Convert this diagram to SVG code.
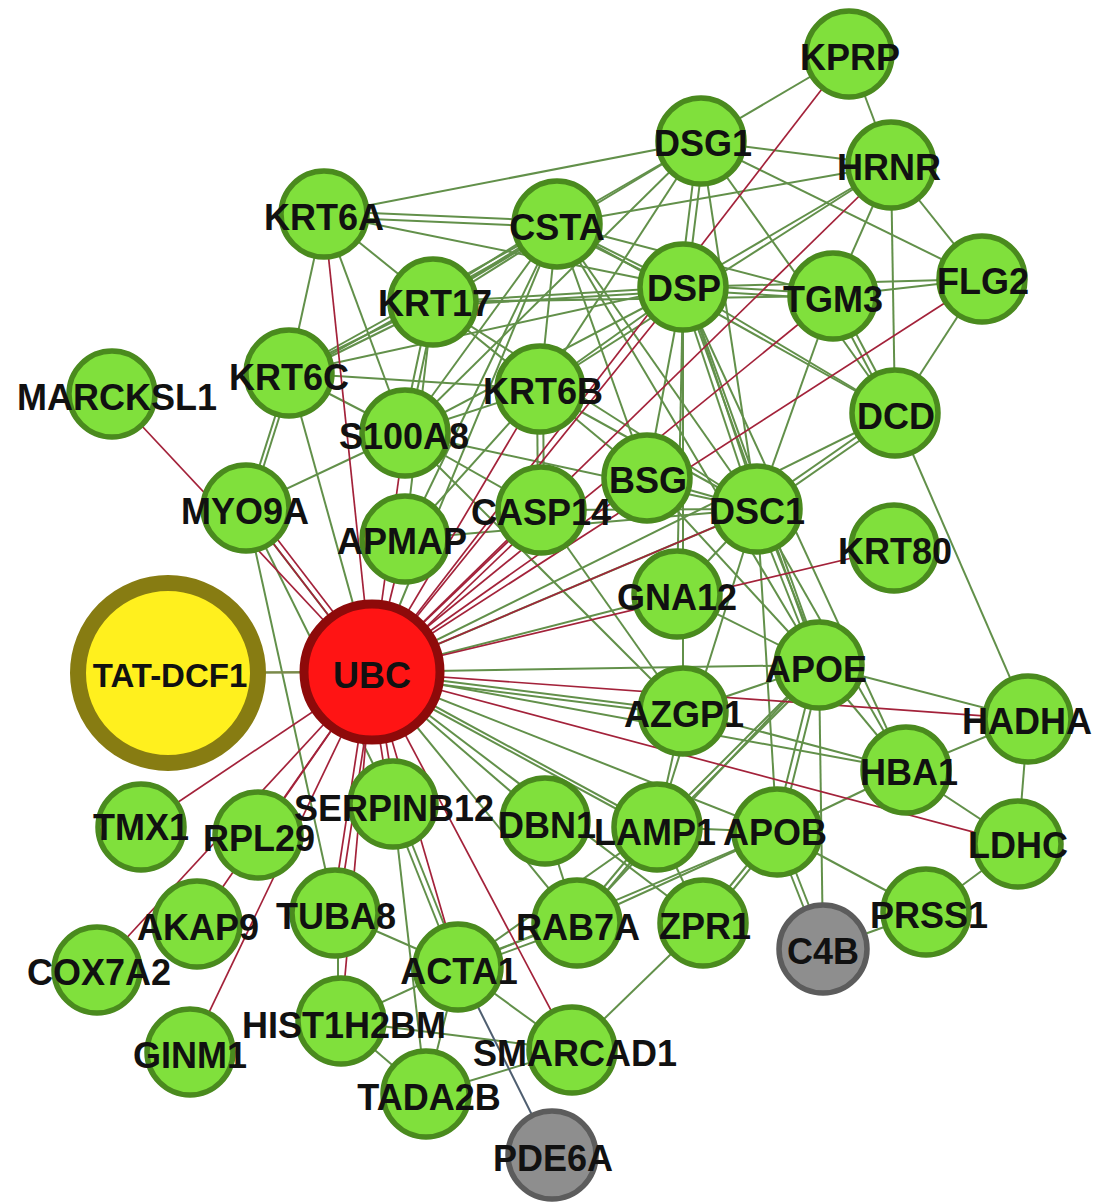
<svg xmlns="http://www.w3.org/2000/svg" width="1101" height="1204" viewBox="0 0 1101 1204">
<style>
.e{stroke:#62904a;stroke-width:2;fill:none}
.r{stroke:#a3223a;stroke-width:1.7;fill:none}
.o{stroke:#7a8a4a;stroke-width:2.5;fill:none}
.b{stroke:#4e5e70;stroke-width:2;fill:none}
.n circle{fill:#80e03c;stroke:#4a8a1e;stroke-width:5.5}
.g circle{fill:#8e8e8e;stroke:#5c5c5c;stroke-width:5.5}
text{font-family:"Liberation Sans",Arial,sans-serif;font-weight:bold;font-size:36px;fill:#111;text-anchor:middle}
</style>
<rect width="1101" height="1204" fill="#fff"/>
<g id="edges">
<line class="e" x1="849" y1="54" x2="701" y2="141"/>
<line class="e" x1="849" y1="54" x2="891" y2="165"/>
<line class="e" x1="701" y1="141" x2="891" y2="165"/>
<line class="e" x1="701" y1="141" x2="557" y2="224"/>
<line class="e" x1="701" y1="141" x2="324" y2="214"/>
<line class="e" x1="698" y1="141" x2="680" y2="287"/>
<line class="e" x1="705" y1="141" x2="687" y2="287"/>
<line class="e" x1="701" y1="141" x2="895" y2="413"/>
<line class="e" x1="701" y1="141" x2="982" y2="279"/>
<line class="e" x1="701" y1="141" x2="433" y2="302"/>
<line class="e" x1="701" y1="141" x2="540" y2="389"/>
<line class="e" x1="701" y1="141" x2="757" y2="509"/>
<line class="e" x1="701" y1="141" x2="405" y2="433"/>
<line class="e" x1="891" y1="165" x2="557" y2="224"/>
<line class="e" x1="891" y1="165" x2="683" y2="287"/>
<line class="e" x1="891" y1="165" x2="833" y2="296"/>
<line class="e" x1="891" y1="165" x2="895" y2="413"/>
<line class="e" x1="891" y1="165" x2="982" y2="279"/>
<line class="e" x1="891" y1="165" x2="540" y2="389"/>
<line class="e" x1="557" y1="221" x2="324" y2="211"/>
<line class="e" x1="557" y1="227" x2="324" y2="217"/>
<line class="e" x1="557" y1="224" x2="433" y2="302"/>
<line class="e" x1="560" y1="227" x2="436" y2="305"/>
<line class="e" x1="554" y1="221" x2="430" y2="299"/>
<line class="e" x1="557" y1="224" x2="289" y2="373"/>
<line class="e" x1="560" y1="227" x2="292" y2="376"/>
<line class="e" x1="557" y1="224" x2="683" y2="287"/>
<line class="e" x1="557" y1="228" x2="683" y2="291"/>
<line class="e" x1="557" y1="224" x2="540" y2="389"/>
<line class="e" x1="557" y1="224" x2="405" y2="433"/>
<line class="e" x1="557" y1="224" x2="757" y2="509"/>
<line class="e" x1="557" y1="224" x2="833" y2="296"/>
<line class="e" x1="557" y1="224" x2="895" y2="413"/>
<line class="e" x1="557" y1="224" x2="405" y2="539"/>
<line class="e" x1="557" y1="224" x2="647" y2="478"/>
<line class="e" x1="557" y1="224" x2="819" y2="665"/>
<line class="e" x1="557" y1="224" x2="372" y2="672"/>
<line class="e" x1="683" y1="287" x2="433" y2="302"/>
<line class="e" x1="683" y1="291" x2="433" y2="306"/>
<line class="e" x1="683" y1="287" x2="289" y2="373"/>
<line class="e" x1="683" y1="285" x2="833" y2="294"/>
<line class="e" x1="683" y1="290" x2="833" y2="299"/>
<line class="e" x1="683" y1="287" x2="982" y2="279"/>
<line class="e" x1="683" y1="287" x2="895" y2="413"/>
<line class="e" x1="680" y1="287" x2="754" y2="509"/>
<line class="e" x1="686" y1="287" x2="760" y2="509"/>
<line class="e" x1="683" y1="287" x2="647" y2="478"/>
<line class="e" x1="683" y1="287" x2="819" y2="665"/>
<line class="e" x1="686" y1="287" x2="822" y2="665"/>
<line class="e" x1="683" y1="287" x2="906" y2="770"/>
<line class="e" x1="683" y1="287" x2="540" y2="389"/>
<line class="e" x1="683" y1="287" x2="405" y2="433"/>
<line class="e" x1="683" y1="287" x2="677" y2="594"/>
<line class="e" x1="683" y1="287" x2="683" y2="711"/>
<line class="e" x1="833" y1="296" x2="982" y2="279"/>
<line class="e" x1="830" y1="296" x2="892" y2="413"/>
<line class="e" x1="836" y1="296" x2="898" y2="413"/>
<line class="e" x1="833" y1="296" x2="757" y2="509"/>
<line class="e" x1="833" y1="296" x2="433" y2="302"/>
<line class="e" x1="982" y1="279" x2="895" y2="413"/>
<line class="e" x1="895" y1="413" x2="1028" y2="719"/>
<line class="e" x1="895" y1="410" x2="757" y2="506"/>
<line class="e" x1="895" y1="416" x2="757" y2="512"/>
<line class="e" x1="895" y1="413" x2="372" y2="672"/>
<line class="e" x1="324" y1="214" x2="433" y2="302"/>
<line class="e" x1="324" y1="214" x2="289" y2="373"/>
<line class="e" x1="324" y1="214" x2="405" y2="433"/>
<line class="e" x1="324" y1="214" x2="683" y2="287"/>
<line class="e" x1="433" y1="302" x2="289" y2="373"/>
<line class="e" x1="433" y1="306" x2="289" y2="377"/>
<line class="e" x1="430" y1="302" x2="402" y2="433"/>
<line class="e" x1="436" y1="302" x2="408" y2="433"/>
<line class="e" x1="433" y1="302" x2="540" y2="389"/>
<line class="e" x1="433" y1="302" x2="405" y2="539"/>
<line class="e" x1="433" y1="302" x2="757" y2="509"/>
<line class="e" x1="289" y1="373" x2="246" y2="508"/>
<line class="e" x1="293" y1="374" x2="250" y2="509"/>
<line class="e" x1="289" y1="373" x2="405" y2="433"/>
<line class="e" x1="289" y1="373" x2="372" y2="672"/>
<line class="e" x1="289" y1="373" x2="540" y2="389"/>
<line class="e" x1="246" y1="508" x2="405" y2="433"/>
<line class="e" x1="246" y1="508" x2="335" y2="913"/>
<line class="e" x1="246" y1="508" x2="393" y2="804"/>
<line class="e" x1="246" y1="508" x2="372" y2="672"/>
<line class="e" x1="405" y1="433" x2="540" y2="389"/>
<line class="e" x1="405" y1="433" x2="683" y2="711"/>
<line class="e" x1="405" y1="433" x2="757" y2="509"/>
<line class="e" x1="405" y1="433" x2="541" y2="510"/>
<line class="e" x1="537" y1="389" x2="538" y2="510"/>
<line class="e" x1="543" y1="389" x2="544" y2="510"/>
<line class="e" x1="540" y1="389" x2="757" y2="509"/>
<line class="e" x1="540" y1="389" x2="405" y2="539"/>
<line class="e" x1="540" y1="389" x2="647" y2="478"/>
<line class="e" x1="541" y1="510" x2="757" y2="509"/>
<line class="e" x1="541" y1="510" x2="683" y2="711"/>
<line class="e" x1="647" y1="478" x2="757" y2="509"/>
<line class="e" x1="647" y1="478" x2="819" y2="665"/>
<line class="e" x1="757" y1="509" x2="677" y2="594"/>
<line class="e" x1="754" y1="509" x2="816" y2="665"/>
<line class="e" x1="760" y1="509" x2="822" y2="665"/>
<line class="e" x1="757" y1="509" x2="777" y2="832"/>
<line class="e" x1="757" y1="509" x2="906" y2="770"/>
<line class="e" x1="757" y1="509" x2="657" y2="827"/>
<line class="e" x1="757" y1="509" x2="372" y2="672"/>
<line class="e" x1="757" y1="509" x2="405" y2="539"/>
<line class="e" x1="677" y1="594" x2="819" y2="665"/>
<line class="e" x1="677" y1="594" x2="372" y2="672"/>
<line class="e" x1="819" y1="665" x2="1028" y2="719"/>
<line class="e" x1="819" y1="665" x2="906" y2="770"/>
<line class="e" x1="816" y1="665" x2="774" y2="832"/>
<line class="e" x1="822" y1="665" x2="780" y2="832"/>
<line class="e" x1="819" y1="665" x2="657" y2="827"/>
<line class="e" x1="822" y1="668" x2="660" y2="830"/>
<line class="e" x1="819" y1="665" x2="823" y2="949"/>
<line class="e" x1="819" y1="665" x2="577" y2="923"/>
<line class="e" x1="819" y1="665" x2="683" y2="711"/>
<line class="e" x1="819" y1="665" x2="372" y2="672"/>
<line class="e" x1="683" y1="711" x2="372" y2="672"/>
<line class="e" x1="683" y1="715" x2="372" y2="676"/>
<line class="e" x1="683" y1="711" x2="906" y2="770"/>
<line class="e" x1="683" y1="711" x2="657" y2="827"/>
<line class="e" x1="1028" y1="719" x2="906" y2="770"/>
<line class="e" x1="1028" y1="719" x2="1018" y2="844"/>
<line class="e" x1="906" y1="770" x2="777" y2="832"/>
<line class="e" x1="906" y1="770" x2="1018" y2="844"/>
<line class="e" x1="906" y1="770" x2="372" y2="672"/>
<line class="e" x1="1018" y1="844" x2="926" y2="912"/>
<line class="e" x1="926" y1="912" x2="777" y2="832"/>
<line class="e" x1="926" y1="912" x2="823" y2="949"/>
<line class="e" x1="774" y1="832" x2="820" y2="949"/>
<line class="e" x1="780" y1="832" x2="826" y2="949"/>
<line class="e" x1="774" y1="832" x2="700" y2="923"/>
<line class="e" x1="780" y1="832" x2="706" y2="923"/>
<line class="e" x1="777" y1="832" x2="577" y2="923"/>
<line class="e" x1="777" y1="832" x2="657" y2="827"/>
<line class="e" x1="777" y1="832" x2="372" y2="672"/>
<line class="e" x1="777" y1="832" x2="458" y2="967"/>
<line class="e" x1="654" y1="827" x2="574" y2="923"/>
<line class="e" x1="660" y1="827" x2="580" y2="923"/>
<line class="e" x1="657" y1="827" x2="703" y2="923"/>
<line class="e" x1="657" y1="827" x2="458" y2="967"/>
<line class="e" x1="657" y1="827" x2="372" y2="672"/>
<line class="e" x1="657" y1="831" x2="372" y2="676"/>
<line class="e" x1="545" y1="821" x2="372" y2="672"/>
<line class="e" x1="545" y1="821" x2="577" y2="923"/>
<line class="e" x1="577" y1="923" x2="372" y2="672"/>
<line class="e" x1="703" y1="923" x2="372" y2="672"/>
<line class="e" x1="703" y1="923" x2="572" y2="1050"/>
<line class="e" x1="577" y1="920" x2="458" y2="964"/>
<line class="e" x1="577" y1="926" x2="458" y2="970"/>
<line class="e" x1="390" y1="804" x2="455" y2="967"/>
<line class="e" x1="396" y1="804" x2="461" y2="967"/>
<line class="e" x1="458" y1="967" x2="335" y2="913"/>
<line class="e" x1="458" y1="967" x2="341" y2="1021"/>
<line class="e" x1="458" y1="967" x2="426" y2="1094"/>
<line class="e" x1="458" y1="967" x2="572" y2="1050"/>
<line class="e" x1="341" y1="1021" x2="426" y2="1094"/>
<line class="e" x1="341" y1="1021" x2="572" y2="1050"/>
<line class="e" x1="338" y1="913" x2="338" y2="1021"/>
<line class="e" x1="426" y1="1094" x2="572" y2="1050"/>
<line class="e" x1="393" y1="804" x2="426" y2="1094"/>
<line class="o" x1="168" y1="673" x2="372" y2="672"/>
<line class="b" x1="458" y1="967" x2="552" y2="1155"/>
<line class="r" x1="372" y1="672" x2="112" y2="394"/>
<line class="r" x1="372" y1="672" x2="246" y2="508"/>
<line class="r" x1="377" y1="669" x2="251" y2="505"/>
<line class="r" x1="372" y1="672" x2="324" y2="214"/>
<line class="r" x1="372" y1="672" x2="405" y2="433"/>
<line class="r" x1="372" y1="672" x2="405" y2="539"/>
<line class="r" x1="372" y1="672" x2="541" y2="510"/>
<line class="r" x1="375" y1="676" x2="544" y2="514"/>
<line class="r" x1="372" y1="672" x2="540" y2="389"/>
<line class="r" x1="372" y1="672" x2="647" y2="478"/>
<line class="r" x1="372" y1="672" x2="683" y2="287"/>
<line class="r" x1="372" y1="672" x2="849" y2="54"/>
<line class="r" x1="372" y1="672" x2="891" y2="165"/>
<line class="r" x1="372" y1="672" x2="833" y2="296"/>
<line class="r" x1="372" y1="672" x2="982" y2="279"/>
<line class="r" x1="372" y1="672" x2="894" y2="548"/>
<line class="r" x1="372" y1="672" x2="757" y2="509"/>
<line class="r" x1="372" y1="672" x2="1028" y2="719"/>
<line class="r" x1="372" y1="672" x2="1018" y2="844"/>
<line class="r" x1="369" y1="672" x2="390" y2="804"/>
<line class="r" x1="375" y1="672" x2="396" y2="804"/>
<line class="r" x1="372" y1="672" x2="258" y2="835"/>
<line class="r" x1="372" y1="672" x2="141" y2="827"/>
<line class="r" x1="372" y1="672" x2="197" y2="924"/>
<line class="r" x1="372" y1="672" x2="97" y2="970"/>
<line class="r" x1="372" y1="672" x2="190" y2="1052"/>
<line class="r" x1="369" y1="672" x2="332" y2="913"/>
<line class="r" x1="375" y1="672" x2="338" y2="913"/>
<line class="r" x1="372" y1="672" x2="341" y2="1021"/>
<line class="r" x1="372" y1="672" x2="458" y2="967"/>
<line class="r" x1="372" y1="672" x2="572" y2="1050"/>
</g>
<g id="node-KPRP" class="n"><circle cx="849" cy="54" r="43"/><text x="850" y="70">KPRP</text></g>
<g id="node-DSG1" class="n"><circle cx="701" cy="141" r="43"/><text x="703" y="156">DSG1</text></g>
<g id="node-HRNR" class="n"><circle cx="891" cy="165" r="43"/><text x="889" y="180">HRNR</text></g>
<g id="node-KRT6A" class="n"><circle cx="324" cy="214" r="43"/><text x="324" y="230">KRT6A</text></g>
<g id="node-CSTA" class="n"><circle cx="557" cy="224" r="43"/><text x="557" y="240">CSTA</text></g>
<g id="node-DSP" class="n"><circle cx="683" cy="287" r="43"/><text x="684" y="301">DSP</text></g>
<g id="node-TGM3" class="n"><circle cx="833" cy="296" r="43"/><text x="833" y="312">TGM3</text></g>
<g id="node-FLG2" class="n"><circle cx="982" cy="279" r="43"/><text x="983" y="294">FLG2</text></g>
<g id="node-KRT17" class="n"><circle cx="433" cy="302" r="43"/><text x="435" y="316">KRT17</text></g>
<g id="node-KRT6C" class="n"><circle cx="289" cy="373" r="43"/><text x="289" y="390">KRT6C</text></g>
<g id="node-MARCKSL1" class="n"><circle cx="112" cy="394" r="43"/><text x="117" y="410">MARCKSL1</text></g>
<g id="node-KRT6B" class="n"><circle cx="540" cy="389" r="43"/><text x="543" y="404">KRT6B</text></g>
<g id="node-S100A8" class="n"><circle cx="405" cy="433" r="43"/><text x="404" y="449">S100A8</text></g>
<g id="node-DCD" class="n"><circle cx="895" cy="413" r="43"/><text x="896" y="429">DCD</text></g>
<g id="node-BSG" class="n"><circle cx="647" cy="478" r="43"/><text x="648" y="493">BSG</text></g>
<g id="node-CASP14" class="n"><circle cx="541" cy="510" r="43"/><text x="541" y="525">CASP14</text></g>
<g id="node-DSC1" class="n"><circle cx="757" cy="509" r="43"/><text x="757" y="524">DSC1</text></g>
<g id="node-MYO9A" class="n"><circle cx="246" cy="508" r="43"/><text x="245" y="524">MYO9A</text></g>
<g id="node-APMAP" class="n"><circle cx="405" cy="539" r="43"/><text x="402" y="554">APMAP</text></g>
<g id="node-KRT80" class="n"><circle cx="894" cy="548" r="43"/><text x="895" y="564">KRT80</text></g>
<g id="node-GNA12" class="n"><circle cx="677" cy="594" r="43"/><text x="677" y="610">GNA12</text></g>
<g id="node-APOE" class="n"><circle cx="819" cy="665" r="43"/><text x="816" y="682">APOE</text></g>
<g id="node-TAT-DCF1"><circle cx="168" cy="673" r="90" fill="#fff01e" stroke="#877c12" stroke-width="16"/><text x="170" y="687" style="font-size:33px">TAT-DCF1</text></g>
<g id="node-UBC"><circle cx="372" cy="672" r="68" fill="#ff1414" stroke="#8e0a0a" stroke-width="9"/><text x="372" y="688">UBC</text></g>
<g id="node-AZGP1" class="n"><circle cx="683" cy="711" r="43"/><text x="684" y="727">AZGP1</text></g>
<g id="node-HADHA" class="n"><circle cx="1028" cy="719" r="43"/><text x="1027" y="734">HADHA</text></g>
<g id="node-HBA1" class="n"><circle cx="906" cy="770" r="43"/><text x="909" y="785">HBA1</text></g>
<g id="node-TMX1" class="n"><circle cx="141" cy="827" r="43"/><text x="141" y="840">TMX1</text></g>
<g id="node-RPL29" class="n"><circle cx="258" cy="835" r="43"/><text x="259" y="851">RPL29</text></g>
<g id="node-DBN1" class="n"><circle cx="545" cy="821" r="43"/><text x="547" y="838">DBN1</text></g>
<g id="node-SERPINB12" class="n"><circle cx="393" cy="804" r="43"/><text x="394" y="821">SERPINB12</text></g>
<g id="node-APOB" class="n"><circle cx="777" cy="832" r="43"/><text x="775" y="845">APOB</text></g>
<g id="node-LAMP1" class="n"><circle cx="657" cy="827" r="43"/><text x="655" y="845">LAMP1</text></g>
<g id="node-LDHC" class="n"><circle cx="1018" cy="844" r="43"/><text x="1018" y="858">LDHC</text></g>
<g id="node-C4B" class="g"><circle cx="823" cy="949" r="44"/><text x="823" y="964">C4B</text></g>
<g id="node-PRSS1" class="n"><circle cx="926" cy="912" r="43"/><text x="929" y="928">PRSS1</text></g>
<g id="node-ZPR1" class="n"><circle cx="703" cy="923" r="43"/><text x="705" y="939">ZPR1</text></g>
<g id="node-RAB7A" class="n"><circle cx="577" cy="923" r="43"/><text x="578" y="940">RAB7A</text></g>
<g id="node-AKAP9" class="n"><circle cx="197" cy="924" r="43"/><text x="198" y="940">AKAP9</text></g>
<g id="node-TUBA8" class="n"><circle cx="335" cy="913" r="43"/><text x="336" y="929">TUBA8</text></g>
<g id="node-ACTA1" class="n"><circle cx="458" cy="967" r="43"/><text x="459" y="984">ACTA1</text></g>
<g id="node-COX7A2" class="n"><circle cx="97" cy="970" r="43"/><text x="99" y="985">COX7A2</text></g>
<g id="node-GINM1" class="n"><circle cx="190" cy="1052" r="43"/><text x="190" y="1068">GINM1</text></g>
<g id="node-TADA2B" class="n"><circle cx="426" cy="1094" r="43"/><text x="429" y="1110">TADA2B</text></g>
<g id="node-HIST1H2BM" class="n"><circle cx="341" cy="1021" r="43"/><text x="344" y="1038">HIST1H2BM</text></g>
<g id="node-SMARCAD1" class="n"><circle cx="572" cy="1050" r="43"/><text x="575" y="1066">SMARCAD1</text></g>
<g id="node-PDE6A" class="g"><circle cx="552" cy="1155" r="44"/><text x="553" y="1171">PDE6A</text></g>
</svg>
